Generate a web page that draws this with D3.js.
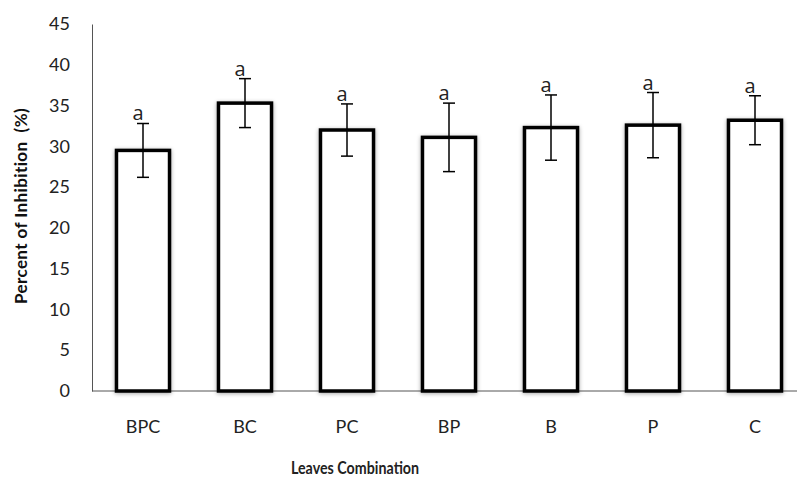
<!DOCTYPE html>
<html>
<head>
<meta charset="utf-8">
<script src="https://cdn.jsdelivr.net/npm/d3@7"></script>
<style>
  body { margin: 0; background: #fff; }
  svg { display: block; font-family: Lato, "Open Sans", sans-serif; }
</style>
</head>
<body>
<svg id="chart" width="797" height="479"></svg>
<script>
// Leaves combinations and percent inhibition (mean, error)
var categories = ['BPC', 'BC', 'PC', 'BP', 'B', 'P', 'C'];
var inhibition = [29.5, 35.3, 32.0, 31.1, 32.3, 32.6, 33.2];
var errors = [3.3, 3.0, 3.2, 4.2, 4.0, 4.0, 3.0];
var letters = ['a', 'a', 'a', 'a', 'a', 'a', 'a'];
var yTicks = [0, 5, 10, 15, 20, 25, 30, 35, 40, 45];

var data = categories.map(function (c, i) {
  return { key: c, value: inhibition[i], err: errors[i], letter: letters[i] };
});

var svg = d3.select('#chart');
var plotLeft = 92, plotTop = 24, plotBottom = 391;

var x = d3.scaleBand()
  .domain(categories)
  .range([plotLeft, plotLeft + 7 * 102])
  .paddingInner(0.48)
  .paddingOuter(0.24);

var y = d3.scaleLinear().domain([0, 45]).range([plotBottom, plotTop]);

// soft shadow like the spreadsheet bars
var defs = svg.append('defs');
var f = defs.append('filter').attr('id', 'shadow')
  .attr('x', '-20%').attr('y', '-20%').attr('width', '140%').attr('height', '140%');
f.append('feGaussianBlur').attr('in', 'SourceAlpha').attr('stdDeviation', 2).attr('result', 'b');
f.append('feOffset').attr('in', 'b').attr('dx', 0).attr('dy', 1).attr('result', 'o');
f.append('feComponentTransfer').attr('in', 'o').attr('result', 'o2')
  .append('feFuncA').attr('type', 'linear').attr('slope', 0.35);
var m = f.append('feMerge');
m.append('feMergeNode').attr('in', 'o2');
m.append('feMergeNode').attr('in', 'SourceGraphic');

// axes
var yAxis = svg.append('g')
  .attr('transform', 'translate(' + plotLeft + ',0)')
  .call(d3.axisLeft(y).tickValues(yTicks).tickSize(0).tickPadding(22));
yAxis.select('.domain').attr('stroke', '#555').attr('stroke-width', 1);
yAxis.selectAll('text')
  .attr('font-size', 18).attr('fill', '#222')
  .attr('font-family', 'Lato, sans-serif');

svg.append('line')
  .attr('x1', plotLeft).attr('x2', 797)
  .attr('y1', plotBottom).attr('y2', plotBottom)
  .attr('stroke', '#555').attr('stroke-width', 1);

// bars
svg.selectAll('rect.bar')
  .data(data)
  .enter()
  .append('rect')
  .attr('class', 'bar')
  .attr('x', function (d) { return x(d.key); })
  .attr('y', function (d) { return y(d.value); })
  .attr('width', x.bandwidth())
  .attr('height', function (d) { return plotBottom - y(d.value); })
  .attr('fill', '#fff')
  .attr('stroke', '#000')
  .attr('stroke-width', 3.5)
  .attr('filter', 'url(#shadow)');

// error bars
var eb = svg.selectAll('g.err')
  .data(data)
  .enter()
  .append('g')
  .attr('class', 'err')
  .attr('transform', function (d) { return 'translate(' + (x(d.key) + x.bandwidth() / 2) + ',0)'; });

eb.append('line')
  .attr('y1', function (d) { return y(d.value + d.err); })
  .attr('y2', function (d) { return y(d.value - d.err); })
  .attr('stroke', '#000').attr('stroke-width', 1.5);
eb.selectAll('line.cap')
  .data(function (d) { return [d.value + d.err, d.value - d.err]; })
  .enter()
  .append('line')
  .attr('class', 'cap')
  .attr('x1', -6).attr('x2', 6)
  .attr('y1', function (v) { return y(v); })
  .attr('y2', function (v) { return y(v); })
  .attr('stroke', '#000').attr('stroke-width', 1.5);

eb.append('text')
  .attr('x', -5)
  .attr('y', function (d) { return y(d.value + d.err) - 3; })
  .attr('text-anchor', 'middle')
  .attr('font-size', 20)
  .attr('fill', '#222')
  .attr('font-family', '"Open Sans", sans-serif')
  .text(function (d) { return d.letter; });

// category labels
svg.selectAll('text.cat')
  .data(categories)
  .enter()
  .append('text')
  .attr('class', 'cat')
  .attr('x', function (c) { return x(c) + x.bandwidth() / 2; })
  .attr('y', 433)
  .attr('text-anchor', 'middle')
  .attr('font-size', 18)
  .attr('fill', '#222')
  .text(function (c) { return c; });

// axis titles
svg.append('text')
  .attr('transform', 'translate(355,474) scale(0.84,1)')
  .attr('text-anchor', 'middle')
  .attr('font-size', 17).attr('font-weight', 'bold').attr('fill', '#222')
  .text('Leaves Combination');

svg.append('text')
  .attr('transform', 'translate(27,206) rotate(-90)')
  .attr('text-anchor', 'middle')
  .attr('font-size', 17).attr('font-weight', 'bold').attr('fill', '#111')
  .attr('letter-spacing', 0.4)
  .attr('xml:space', 'preserve')
  .style('white-space', 'pre')
  .text('Percent of Inhibition  (%)');
</script>
</body>
</html>
